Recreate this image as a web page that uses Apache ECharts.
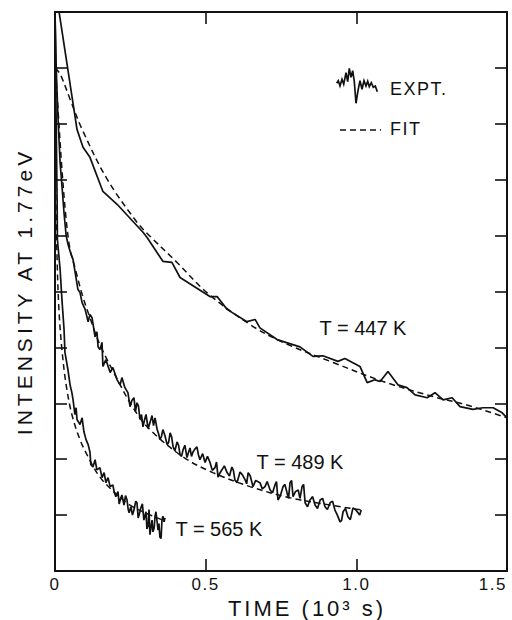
<!DOCTYPE html>
<html>
<head>
<meta charset="utf-8">
<title>Intensity decay at 1.77 eV</title>
<script src="https://cdn.jsdelivr.net/npm/echarts/dist/echarts.min.js"></script>
<style>
  html, body { margin: 0; padding: 0; background: #fff; }
  #chart { width: 512px; height: 620px; }
  /* hand-lettered look: widen the spacing of the axis titles and labels */
  #chart text[style*="21px"] { letter-spacing: 4px; }
  #chart text[style*="22px"] { letter-spacing: 3px; }
  #chart text[style*="17px"] { letter-spacing: 1.5px; }
  #chart text[style*="18px"] { letter-spacing: 1.5px; }
</style>
</head>
<body>
<div id="chart"></div>
<script>
// time in 10^3 s, intensity in arbitrary units (axis spans 0..10)

// T = 447 K, measured
const expt447 = [
  [0.013, 10.02], [0.043, 8.96], [0.073, 7.90], [0.093, 7.58], [0.116, 7.40],
  [0.159, 6.79], [0.206, 6.56], [0.292, 6.06], [0.305, 5.97], [0.358, 5.54],
  [0.388, 5.52], [0.415, 5.25], [0.514, 4.91], [0.538, 4.91], [0.571, 4.68],
  [0.637, 4.46], [0.664, 4.50], [0.680, 4.35], [0.737, 4.14], [0.813, 4.01],
  [0.856, 3.84], [0.889, 3.85], [0.939, 3.75], [0.962, 3.80], [1.012, 3.66],
  [1.036, 3.37], [1.062, 3.42], [1.079, 3.39], [1.105, 3.57], [1.138, 3.33],
  [1.168, 3.28], [1.195, 3.15], [1.235, 3.10], [1.261, 3.19], [1.288, 3.06],
  [1.318, 3.10], [1.344, 2.94], [1.387, 2.89], [1.420, 2.92], [1.454, 2.92],
  [1.484, 2.83], [1.500, 2.74]
];
// T = 447 K, fitted
const fit447 = [
  [0.000, 9.00], [0.017, 8.89], [0.050, 8.44], [0.090, 7.90], [0.173, 7.01],
  [0.272, 6.24], [0.315, 5.99], [0.405, 5.52], [0.504, 4.98], [0.647, 4.41],
  [0.757, 4.09], [0.923, 3.73], [1.089, 3.39], [1.255, 3.12], [1.367, 2.97],
  [1.500, 2.74]
];

// T = 489 K, measured
const expt489 = [
  [0.000, 10.0], [0.004, 9.00], [0.010, 8.10], [0.017, 7.30], [0.023, 6.90],
  [0.030, 6.40], [0.037, 6.00], [0.043, 5.85], [0.050, 5.72], [0.060, 5.57],
  [0.076, 5.04], [0.083, 4.98], [0.090, 4.80], [0.100, 4.68], [0.110, 4.46],
  [0.116, 4.59], [0.123, 4.53], [0.133, 4.19], [0.139, 4.28], [0.143, 4.01],
  [0.149, 3.96], [0.156, 4.09], [0.159, 3.66], [0.169, 3.78], [0.183, 3.55],
  [0.192, 3.64], [0.206, 3.42], [0.216, 3.33], [0.222, 3.46], [0.232, 3.28],
  [0.242, 3.19], [0.249, 2.94], [0.255, 3.05], [0.262, 3.10], [0.267, 2.85],
  [0.272, 3.01], [0.277, 2.95], [0.282, 2.71], [0.287, 2.80], [0.292, 2.58],
  [0.297, 2.70], [0.302, 2.80], [0.309, 2.55], [0.315, 2.65], [0.322, 2.78],
  [0.327, 2.60], [0.332, 2.74], [0.339, 2.53], [0.344, 2.45], [0.348, 2.35],
  [0.353, 2.40], [0.358, 2.53], [0.365, 2.42], [0.372, 2.26], [0.377, 2.30],
  [0.382, 2.47], [0.387, 2.40], [0.392, 2.22], [0.398, 2.15], [0.405, 2.31],
  [0.410, 2.25], [0.415, 2.08], [0.420, 2.05], [0.425, 2.17], [0.431, 2.25],
  [0.438, 2.03], [0.443, 2.12], [0.448, 2.20], [0.453, 2.05], [0.458, 2.13],
  [0.464, 2.18], [0.471, 2.22], [0.476, 2.08], [0.481, 1.99], [0.490, 2.10],
  [0.498, 1.94], [0.506, 2.05], [0.514, 1.95], [0.522, 1.80], [0.531, 1.85],
  [0.536, 1.95], [0.541, 1.68], [0.547, 1.75], [0.554, 1.81], [0.562, 1.88],
  [0.571, 1.76], [0.579, 1.70], [0.587, 1.86], [0.592, 1.80], [0.597, 1.63],
  [0.604, 1.58], [0.614, 1.77], [0.622, 1.72], [0.631, 1.63], [0.636, 1.56],
  [0.641, 1.76], [0.648, 1.70], [0.657, 1.51], [0.666, 1.62], [0.680, 1.58],
  [0.688, 1.47], [0.697, 1.51], [0.704, 1.60], [0.714, 1.45], [0.722, 1.40],
  [0.730, 1.54], [0.735, 1.60], [0.740, 1.27], [0.748, 1.35], [0.757, 1.51],
  [0.763, 1.55], [0.770, 1.40], [0.775, 1.30], [0.780, 1.58], [0.785, 1.62],
  [0.790, 1.33], [0.798, 1.42], [0.807, 1.45], [0.813, 1.30], [0.820, 1.51],
  [0.825, 1.55], [0.830, 1.22], [0.838, 1.15], [0.846, 1.27], [0.855, 1.33],
  [0.863, 1.18], [0.871, 1.12], [0.880, 1.27], [0.888, 1.30], [0.896, 1.15],
  [0.904, 1.10], [0.913, 1.22], [0.921, 1.25], [0.929, 1.09], [0.937, 1.00],
  [0.946, 0.88], [0.951, 0.90], [0.956, 1.06], [0.964, 1.12], [0.972, 0.97],
  [0.980, 0.92], [0.989, 1.13], [0.997, 1.10], [1.006, 1.04], [1.011, 1.00],
  [1.016, 1.09]
];
// T = 489 K, fitted
const fit489 = [
  [0.000, 9.10], [0.010, 8.26], [0.023, 7.19], [0.037, 6.29], [0.050, 5.75],
  [0.066, 5.43], [0.090, 4.95], [0.116, 4.53], [0.149, 4.05], [0.199, 3.51],
  [0.259, 2.92], [0.315, 2.53], [0.425, 2.04], [0.524, 1.76], [0.647, 1.51],
  [0.780, 1.31], [0.913, 1.18], [1.019, 1.09]
];

// T = 565 K, measured
const expt565 = [
  [0.000, 10.0], [0.002, 9.20], [0.003, 8.44], [0.005, 7.55], [0.007, 6.65],
  [0.008, 5.93], [0.017, 5.39], [0.023, 4.86], [0.030, 4.32], [0.033, 3.91],
  [0.043, 3.60], [0.050, 3.33], [0.056, 3.19], [0.060, 3.06], [0.066, 2.80],
  [0.070, 2.92], [0.073, 2.71], [0.083, 2.62], [0.090, 2.74], [0.096, 2.49],
  [0.103, 2.35], [0.110, 2.26], [0.116, 2.13], [0.119, 1.90], [0.126, 1.86],
  [0.133, 1.99], [0.139, 1.81], [0.149, 1.85], [0.156, 1.67], [0.163, 1.76],
  [0.169, 1.58], [0.176, 1.67], [0.183, 1.51], [0.192, 1.54], [0.197, 1.40],
  [0.202, 1.33], [0.209, 1.42], [0.213, 1.20], [0.218, 1.30], [0.222, 1.36],
  [0.229, 1.18], [0.234, 1.35], [0.239, 1.27], [0.243, 1.10], [0.246, 1.04],
  [0.252, 1.15], [0.257, 1.00], [0.262, 1.09], [0.268, 1.25], [0.272, 1.22],
  [0.276, 0.95], [0.279, 1.00], [0.285, 1.13], [0.290, 1.20], [0.295, 0.91],
  [0.302, 1.06], [0.305, 0.75], [0.309, 0.82], [0.312, 1.10], [0.315, 0.65],
  [0.322, 0.91], [0.325, 0.70], [0.329, 0.77], [0.332, 0.98], [0.335, 1.06],
  [0.342, 0.73], [0.345, 0.85], [0.348, 0.61], [0.352, 0.58], [0.355, 0.91],
  [0.358, 0.98], [0.362, 0.88], [0.365, 0.95]
];
// T = 565 K, fitted
const fit565 = [
  [0.000, 8.17], [0.003, 6.65], [0.007, 5.57], [0.013, 4.68], [0.023, 3.96],
  [0.037, 3.33], [0.056, 2.80], [0.083, 2.35], [0.110, 2.04], [0.149, 1.68],
  [0.199, 1.40], [0.249, 1.18], [0.299, 1.04], [0.358, 0.91]
];

// axis ticks and their printed labels
const xTickValues = [0, 0.5, 1.0, 1.5];
const xTickLabels = ['0', '0.5', '1.0', '1.5'];
const yTickValues = [0, 1, 2, 3, 4, 5, 6, 7, 8, 9, 10];

// temperature tags and the (time, intensity) spot each one sits at
const tempLabels = ['T = 447 K', 'T = 489 K', 'T = 565 K'];
const tempLabelAt = [[1.022, 4.35], [0.813, 1.95], [0.544, 0.75]];

const INK = '#111';
const FONT = '"Liberation Sans", Arial, sans-serif';

function measured(data, idx) {
  return {
    type: 'line', data: data, symbol: 'none', showSymbol: false,
    lineStyle: { color: INK, width: 1.7 },
    z: 3,
    markPoint: {
      symbol: 'rect', symbolSize: 1,
      itemStyle: { color: 'rgba(0,0,0,0)' },
      label: {
        show: true, position: 'inside', color: INK,
        fontFamily: FONT, fontSize: 20,
        formatter: tempLabels[idx]
      },
      data: [{ coord: tempLabelAt[idx] }]
    }
  };
}
function fitted(data) {
  return {
    type: 'line', data: data, symbol: 'none', showSymbol: false, smooth: 0.35,
    lineStyle: { color: INK, width: 1.5, type: [6, 4] },
    z: 2
  };
}

const frameAxisLine = { show: true, onZero: false, lineStyle: { color: INK, width: 2 } };
const innerTick = { show: true, inside: true, length: 12, lineStyle: { color: INK, width: 1.6 } };

const chart = echarts.init(document.getElementById('chart'), null, { renderer: 'svg' });
chart.setOption({
  animation: false,
  backgroundColor: '#fff',
  grid: { left: 55, right: 5, top: 12, bottom: 49, outerBoundsMode: 'none' },
  xAxis: [
    {
      type: 'value', position: 'bottom', min: 0, max: 1.5, interval: 0.5,
      axisLine: frameAxisLine, axisTick: innerTick, splitLine: { show: false },
      axisLabel: {
        color: INK, fontFamily: FONT, fontSize: 17, margin: 5,
        alignMaxLabel: 'right',
        formatter: v => xTickLabels[xTickValues.findIndex(t => Math.abs(t - v) < 1e-9)]
      },
      name: 'TIME (10³ s)', nameLocation: 'middle', nameGap: 22,
      nameTextStyle: { color: INK, fontFamily: FONT, fontSize: 22, padding: [0, 0, 0, 52] }
    },
    {
      type: 'value', position: 'top', min: 0, max: 1.5, interval: 0.5,
      axisLine: frameAxisLine, axisTick: innerTick, splitLine: { show: false },
      axisLabel: { show: false }
    }
  ],
  yAxis: [
    {
      type: 'value', position: 'left', min: yTickValues[0], max: yTickValues[yTickValues.length - 1], interval: 1,
      axisLine: frameAxisLine, axisTick: innerTick, splitLine: { show: false },
      axisLabel: { show: false },
      name: 'INTENSITY AT 1.77eV', nameLocation: 'middle', nameRotate: 90, nameGap: 20,
      nameTextStyle: { color: INK, fontFamily: FONT, fontSize: 21 }
    },
    {
      type: 'value', position: 'right', min: yTickValues[0], max: yTickValues[yTickValues.length - 1], interval: 1,
      axisLine: frameAxisLine, axisTick: innerTick, splitLine: { show: false },
      axisLabel: { show: false }
    }
  ],
  series: [
    measured(expt447, 0), fitted(fit447),
    measured(expt489, 1), fitted(fit489),
    measured(expt565, 2), fitted(fit565)
  ],
  // key: a jagged trace for the measurement, a dashed stroke for the fit
  graphic: [
    {
      type: 'polyline', silent: true,
      shape: { points: [
        [336.7, 83.3], [338.3, 80.7], [340, 86], [342, 79.3], [343.7, 84.3],
        [346, 72.7], [347.7, 81.7], [349.3, 68.3], [351, 77.3], [352.7, 70.7],
        [354.3, 81.7], [356, 103.3], [358, 90.7], [360, 80.7], [362, 89.3],
        [364, 80.7], [366, 86], [367.7, 81.3], [369.3, 86.7], [371.3, 82.7],
        [373.3, 87.3], [375.3, 86], [377.3, 91.7]
      ] },
      style: { stroke: INK, lineWidth: 1.7, fill: null }
    },
    {
      type: 'text', left: 390, top: 80,
      style: { text: 'EXPT.', fill: INK, font: '18px ' + FONT }
    },
    {
      type: 'line', silent: true,
      shape: { x1: 340, y1: 130, x2: 381, y2: 130 },
      style: { stroke: INK, lineWidth: 1.5, lineDash: [6, 4] }
    },
    {
      type: 'text', left: 390, top: 120,
      style: { text: 'FIT', fill: INK, font: '18px ' + FONT }
    }
  ]
});
</script>
</body>
</html>
